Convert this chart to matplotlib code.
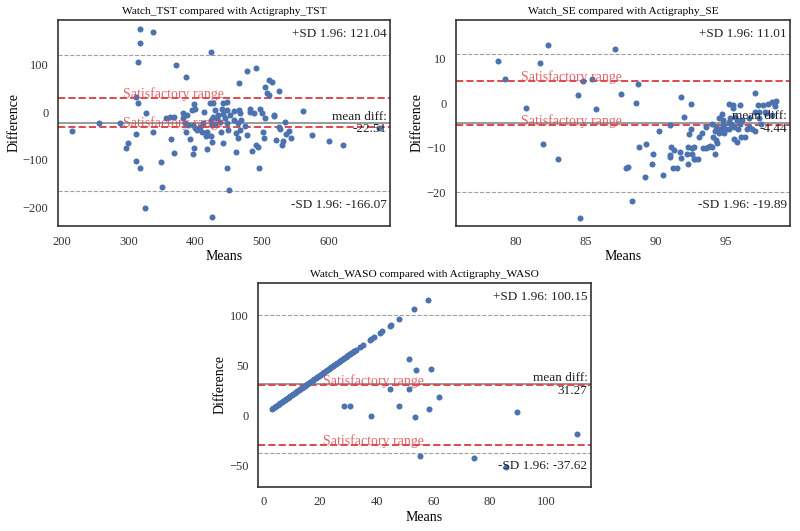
import matplotlib
matplotlib.use('Agg')
import matplotlib.pyplot as plt
import matplotlib.transforms as mtransforms

plt.rcParams['font.family'] = ['Liberation Serif', 'DejaVu Serif']
plt.rcParams['axes.unicode_minus'] = True

# ---- TST: means and differences (minutes)
tst_mean = [216, 256, 288, 296, 300, 311, 312, 318, 325, 318, 317, 314, 337, 311, 315, 327, 349, 350,
            371.5, 386.5, 477.5, 491.5, 465, 505, 507.5, 510, 511, 515, 525,
            337.5, 356.5, 362.5, 368.5, 363.5, 368.5, 382.5, 381.5, 387.5, 385, 390, 386.5, 392.5,
            395, 398.5, 400, 397.5, 400, 398.5, 397.5, 402.5, 407.5, 410, 412.5, 414, 416.5, 418.5,
            417.5, 422.5, 423.5, 425, 423.5, 425, 426.5, 427.5, 430, 430, 432.5, 435, 437.5, 438.5,
            440, 441.5, 442.5, 442.5, 445, 447.5, 448.5, 450, 448.5, 452.5, 457.5, 458.5, 461.5,
            463.5, 463.5, 461.5, 465, 467.5, 467.5, 468.5, 475, 477.5, 481.5, 482.5, 485, 487.5,
            491.5, 493.5, 497.5, 500, 501.5, 502.5, 505, 517.5, 521.5, 525, 495, 448.5,
            424, 426, 451, 518, 534, 561, 527, 540, 536, 531, 530, 544, 575, 601, 621, 675]
tst_diff = [-39, -23, -23, -76, -64, -46, -102, -118, -203, 176, 146, 107, 169, 33, 20, -2, -104, -157,
            100, 75, 88, 93, 61, 53, 41, 36, 68, 63, 44,
            -41, -11, -9, -9, -57, -85, -2, -13, -6, -22, -27, -41, -57,
            5, 17, 6, -27, -34, -76, -88, -37, -30, -41, -22, 1, -51, -41,
            -78, 19, -16, -27, -50, -62, 20, -9, 5, -25, -13, -6, -20, -41,
            8, -3, 19, -64, -13, 5, -23, -37, 22, -6, 3, -16, -44,
            -55, -23, -83, 5, -2, -37, -16, -29, -48, 8, 1, -81, -2,
            -69, -74, 8, -2, -41, -55, -13, -8, -58, -30, -118, -118,
            128, -222, -163, -6, -20, 3, -35, -39, -46, -60, -70, -55, -48, -60, -70, -34]

# ---- SE: means and differences (%)
se_mean = [78.7, 79.2, 81.7, 82.3, 80.7, 81.9, 83.0, 84.4, 84.8, 85.4, 85.7, 84.6, 87.1, 87.5, 87.9,
           88.0, 88.6, 88.7, 88.8, 88.3, 89.3, 89.2, 89.7, 89.8, 90.2, 90.5, 91.0, 91.0, 91.0, 91.1,
           91.2, 91.3, 91.5, 91.7, 91.8, 91.8, 92.0, 92.2, 92.3, 92.3, 92.4, 92.5, 92.5, 92.6, 92.6,
           92.7, 92.8, 92.7, 93.0, 93.1, 93.3, 93.4, 93.6, 93.6, 93.7, 93.9, 94.0, 94.0, 94.1, 94.2,
           94.2, 94.3, 94.3, 94.4, 94.5, 94.5, 94.5, 94.6, 94.7, 94.8, 94.8, 94.9, 94.9, 95.0, 95.2,
           95.2, 95.2, 95.3, 95.4, 95.5, 95.5, 95.6, 95.6, 95.7, 95.8, 95.8, 95.9, 96.0, 96.0, 96.1,
           96.2, 96.4, 96.5, 96.7, 96.7, 96.9, 97.1, 97.1, 97.1, 97.3, 97.4, 97.4, 97.5, 97.7, 97.8,
           97.9, 98.0, 98.3, 98.3, 98.5, 98.6]
se_diff = [9.4, 5.4, 9.0, 13.1, -1.0, -9.2, -12.6, 1.7, 4.9, 5.5, -1.4, -25.8, 12.2, 2.0, -14.5,
           -14.3, 0.1, 4.3, -9.9, -21.9, -9.2, -16.5, -13.7, -11.5, -6.2, -16.0, -4.9, -11.6, -12.0, -9.8,
           -14.6, -10.5, -14.6, -10.9, 1.4, -12.2, -3.2, -11.3, -13.7, -9.8, -6.9, -0.1, -5.7, -10.1, -11.3,
           -12.4, -12.6, -9.8, -12.6, -7.5, -6.8, -10.1, -5.3, -10.1, -9.9, -9.6, -9.8, -4.7, -7.5, -11.4,
           -6.2, -8.3, -5.3, -9.0, -3.4, -6.8, -6.4, -5.9, -2.5, -4.9, -3.8, -6.8, -6.0, -5.7, -0.2,
           -4.2, -5.7, -3.4, -4.7, -0.4, -1.2, -8.1, -5.3, -3.1, -8.7, -3.8, -5.7, -0.4, -4.6, -7.5,
           -3.8, -7.5, -5.7, -5.3, -3.4, -5.7, -1.9, 2.3, -6.2, -0.4, -1.9, -3.4, -4.7, -0.4, -1.9,
           -2.3, -0.1, 0.3, -2.7, -0.7, 0.5]

# ---- WASO: means and differences (minutes)
waso_mean = [3, 3.5, 4, 4.5, 5, 5.5, 6, 6.5, 7, 7.5, 8, 8.5, 9, 9.5, 10, 10.5, 11, 11.5, 12, 12.5,
             13, 13.5, 14, 14.5, 15, 15.5, 16, 16.5, 17, 17.5, 18, 18.5, 19, 19.5, 20, 20.5, 21, 21.5,
             22, 22.5, 23, 23.5, 24, 24.5, 25, 25.5, 26, 26.5, 27, 27.5, 28, 28.5, 29, 29.5, 30, 30.5,
             31, 31.5, 32, 32.5, 34, 35, 37.5, 38, 39, 41, 42, 44.5, 45, 48, 53, 58,
             28.5, 30.6, 37.9, 44.5, 47.9, 51.5, 51.5, 53.5, 53.9, 55.1, 58.4, 59.1, 62.1, 74.4, 85.6,
             89.4, 110.8]
waso_diff = [6, 7, 8, 9, 10, 11, 12, 13, 14, 15, 16, 17, 18, 19, 20, 21, 22, 23, 24, 25,
             26, 27, 28, 29, 30, 31, 32, 33, 34, 35, 36, 37, 38, 39, 40, 41, 42, 43,
             44, 45, 46, 47, 48, 49, 50, 51, 52, 53, 54, 55, 56, 57, 58, 59, 60, 61,
             62, 63, 64, 65, 68, 70, 75, 76, 78, 82, 84, 89, 90, 96, 106, 116,
             9.7, 9.7, -0.7, 26, 9.3, 56, 26, -1.3, 45.3, -40.7, 6.3, 46.7, 18.7, -43, -51.3,
             3, -19]

titles = ['Watch_TST compared with Actigraphy_TST',
          'Watch_SE compared with Actigraphy_SE',
          'Watch_WASO compared with Actigraphy_WASO']
mean_diffs = [-22.51, -4.44, 31.27]
upper_sd = [121.04, 11.01, 100.15]
lower_sd = [-166.07, -19.89, -37.62]
sat_limits = [30, 5, 30]
xlims = [(195, 692), (75.7, 99.6), (-1.8, 115.5)]
ylims = [(-240, 195), (-27.5, 18.6), (-71.3, 132.7)]

dot_color = '#4C72B0'
red = '#DD4A4F'

fig = plt.figure(figsize=(8, 5.31), dpi=100)
axes = [fig.add_axes([0.0729, 0.5744, 0.4146, 0.388]),
        fig.add_axes([0.570, 0.5744, 0.4175, 0.388]),
        fig.add_axes([0.3229, 0.0834, 0.4155, 0.384])]

data = [(tst_mean, tst_diff), (se_mean, se_diff), (waso_mean, waso_diff)]

for i, ax in enumerate(axes):
    m, d = data[i]
    ax.scatter(m, d, s=19, color=dot_color, linewidths=0, zorder=3)
    ax.axhline(mean_diffs[i], color='#9a9a9a', lw=1.4, zorder=2)
    ax.axhline(upper_sd[i], color='#a0a0a0', lw=0.8, ls='--', zorder=2)
    ax.axhline(lower_sd[i], color='#a0a0a0', lw=0.8, ls='--', zorder=2)
    ax.axhline(sat_limits[i], color=red, lw=1.4, ls='--', zorder=2)
    ax.axhline(-sat_limits[i], color=red, lw=1.4, ls='--', zorder=2)

    trans = mtransforms.blended_transform_factory(ax.transAxes, ax.transData)
    ax.text(0.195, sat_limits[i], 'Satisfactory range', color=red, alpha=0.85,
            fontsize=10, transform=trans)
    ax.text(0.195, -sat_limits[i], 'Satisfactory range', color=red, alpha=0.85,
            fontsize=10, transform=trans)
    ax.annotate('mean diff:\n%.2f' % mean_diffs[i], xy=(0.99, mean_diffs[i]), xycoords=trans,
                ha='right', va='center', fontsize=9.5, color='#222222', linespacing=1.1)
    ax.annotate('+SD 1.96: %.2f' % upper_sd[i], xy=(0.99, 0.93), xycoords='axes fraction',
                ha='right', va='center', fontsize=9.5, color='#222222')
    ax.annotate('-SD 1.96: %.2f' % lower_sd[i], xy=(0.99, 0.10), xycoords='axes fraction',
                ha='right', va='center', fontsize=9.5, color='#222222')

    ax.set_xlim(xlims[i])
    ax.set_ylim(ylims[i])
    ax.set_title(titles[i], fontsize=8.2, pad=4)
    ax.set_xlabel('Means', fontsize=10, labelpad=2)
    ax.set_ylabel('Difference', fontsize=10, labelpad=2)
    ax.tick_params(length=0, pad=7, labelsize=9, colors='#333333')
    for sp in ax.spines.values():
        sp.set_color('#333333')
        sp.set_linewidth(1.2)

fig.savefig('out.png', dpi=100)
